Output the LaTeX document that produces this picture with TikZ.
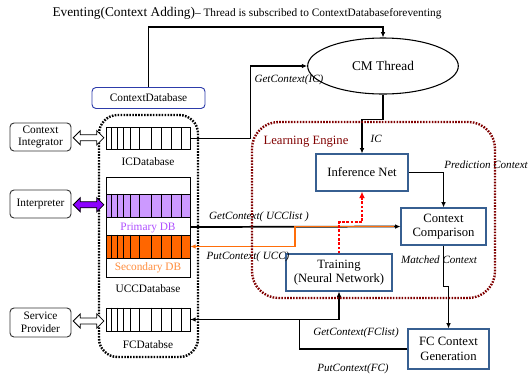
\documentclass[tikz,border=0pt]{standalone}
\usepackage{fontspec}
\setmainfont{Liberation Serif}
\usetikzlibrary{shapes.geometric,shapes.arrows,arrows.meta,calc}

\definecolor{boxblue}{RGB}{55,95,145}
\definecolor{cdbblue}{RGB}{45,60,170}
\definecolor{engred}{RGB}{128,0,0}
\definecolor{primfill}{RGB}{204,153,255}
\definecolor{primtext}{RGB}{175,80,255}
\definecolor{secfill}{RGB}{255,102,0}
\definecolor{sectext}{RGB}{255,140,60}
\definecolor{interpfill}{RGB}{140,0,255}
\definecolor{putorange}{RGB}{255,110,10}

\tikzset{
  txt/.style={font=\fontsize{8.5}{9.5}\selectfont},
  lbl/.style={font=\fontsize{8.3}{9.5}\selectfont\itshape},
  engbox/.style={draw=boxblue, line width=0.8pt, align=center, inner sep=0pt,
    font=\fontsize{9.5}{11}\selectfont},
  sidebox/.style={draw=black!80, rounded corners=3pt, line width=0.7pt, align=center,
    inner sep=0pt, minimum width=45.75pt, minimum height=21pt, txt},
  dbcell/.style={draw, line width=0.6pt, minimum width=63pt, minimum height=16pt, inner sep=0pt},
  dblarr/.style={double arrow, draw, line width=0.6pt, inner xsep=0pt, inner ysep=2pt,
    minimum height=23pt, minimum width=10pt, double arrow head extend=3pt},
  conn/.style={line width=1.3pt, -{Latex[length=4pt,width=3.5pt]}},
  putconn/.style={line width=1.3pt, color=putorange, -{Latex[length=4pt,width=3.5pt]}},
  trainconn/.style={line width=1.5pt, red, dash pattern=on 2pt off 1.2pt,
    -{Latex[length=5pt,width=4.5pt]}},
}

% vertical cells of a database strip
\newcommand{\dbcells}[1]{%
  \foreach \o in {6,12,18,24.5,34,46,55.5,65.5,75.5}
    \draw[line width=0.6pt] ($(#1.north west)+(\o,0)$) -- ($(#1.south west)+(\o,0)$);}

\begin{document}
\begin{tikzpicture}[x={(0.75pt,0)}, y={(0,-0.75pt)}]
  \useasboundingbox (0,0) rectangle (531,379);

  %titulo
  \node (title) at (247,13) {{\fontsize{10}{12}\selectfont Eventing(Context Adding)}{\fontsize{8.5}{10}\selectfont – Thread is subscribed to ContextDatabaseforeventing}};

  %context database
  \node[draw=cdbblue, rounded corners=3pt, line width=0.7pt, minimum width=84.75pt,
        minimum height=15.75pt, txt] (cdb) at (148.5,98) {ContextDatabase};
  \draw[line width=1.8pt, dash pattern=on 1.2pt off 1pt, rounded corners=14pt]
        (99,115) rectangle (198,357);

  \node[dbcell] (icdb) at (148,138.5) {};
  \dbcells{icdb}
  \node[txt] (icdblbl) at (148,162) {ICDatabase};

  \node[draw, line width=0.6pt, minimum width=63pt, minimum height=75pt] (ucc) at (148,227) {};
  \node[dbcell, fill=primfill, minimum height=17.25pt] (prim) at (148,205.5) {};
  \dbcells{prim}
  \node[txt, text=primtext] (primlbl) at (148,228) {Primary DB};
  \node[dbcell, fill=secfill, minimum height=17.25pt] (sec) at (148,246.5) {};
  \dbcells{sec}
  \node[txt, text=sectext] (seclbl) at (148,268) {Secondary DB};
  \node[txt] (ucclbl) at (148,289) {UCCDatabase};

  \node[dbcell, minimum height=17.25pt] (fcdb) at (148,319.5) {};
  \dbcells{fcdb}
  \node[txt] (fcdblbl) at (148,345) {FCDatabse};

  %lado esquerdo
  \node[sidebox] (ci) at (40.5,137) {Context\\Integrator};
  \node[sidebox] (interp) at (40.5,204) {Interpreter};
  \node[sidebox, minimum height=21.75pt] (sp) at (40.5,322.5) {Service\\Provider};

  \node[dblarr, fill=white] (ciarr) at ($(ci.east)!0.5!(icdb.west)$) {};
  \node[dblarr, fill=interpfill] (interparr) at ($(interp.east)!0.5!(prim.west)$) {};
  \node[dblarr, fill=white] (sparr) at ($(sp.east)!0.5!(fcdb.west)$) {};

  %cm thread
  \node[draw, ellipse, line width=0.8pt, minimum width=113pt, minimum height=42pt,
        font=\fontsize{10}{12}\selectfont] (cm) at (383,66) {CM Thread};

  %learning engine
  \node[engbox] (inf) at (362,172.5) [minimum width=69pt, minimum height=27.75pt] {Inference Net};
  \node[engbox] (cc) at (443.5,226.5) [minimum width=63.75pt, minimum height=27.75pt] {Context\\Comparison};
  \node[engbox] (trn) at (339,272.5) [minimum width=79.5pt, minimum height=27.75pt] {Training\\(Neural Network)};
  \node[engbox] (fcg) at (448.5,349) [minimum width=60.75pt, minimum height=30pt] {FC Context\\Generation};

  %ligacoes
  \draw[conn] (cdb.north) -- (cdb.north |- 0,27) -| (cm.north);
  \draw[conn] (icdb.east) -- ++(60,0) |- (cm.west);
  \node[lbl] (gicl) at (289,80) {GetContext(IC)};
  \draw[conn] (cm.south) -- ++(0,25) -| (inf.north);
  \node[lbl, anchor=west] (icl) at (366,139) {IC};
  \draw[conn] (inf.east) -| (cc.north);
  \node[lbl] (pcl) at (486,165) {Prediction Context};
  \draw[conn] (cc.south) -- ++(0,41) -| (fcg.north);
  \node[lbl] (mcl) at (439,260) {Matched Context};

  \draw[conn] (ucc.east) -- (cc.west);
  \node[lbl] (guccl) at (259,217) {GetContext( UCClist )};
  \draw[putconn] ($(cc.west)+(-6,0)$) -- (295,226.5) |- (sec.east);
  \node[lbl] (puccl) at (248,257) {PutContext( UCC)};

  \draw[trainconn] (trn.north) -- ++(0,-31) -| (inf.south);

  \draw[conn] (fcdb.east) -- (trn.south |- fcdb.east) -- (trn.south);
  \node[lbl] (gfcl) at (356,333) {GetContext(FClist)};
  \draw[conn] (fcg.west) -- ++(-108,0) |- (fcdb.east);
  \node[lbl] (pfcl) at (353,369) {PutContext(FC)};

  %moldura
  \draw[engred, line width=1.8pt, dash pattern=on 1.2pt off 1pt, rounded corners=20pt]
        (252,122) rectangle (495,298);
  \node[text=engred, font=\fontsize{9.5}{11}\selectfont] (lel) at (306,142) {Learning Engine};
\end{tikzpicture}
\end{document}
